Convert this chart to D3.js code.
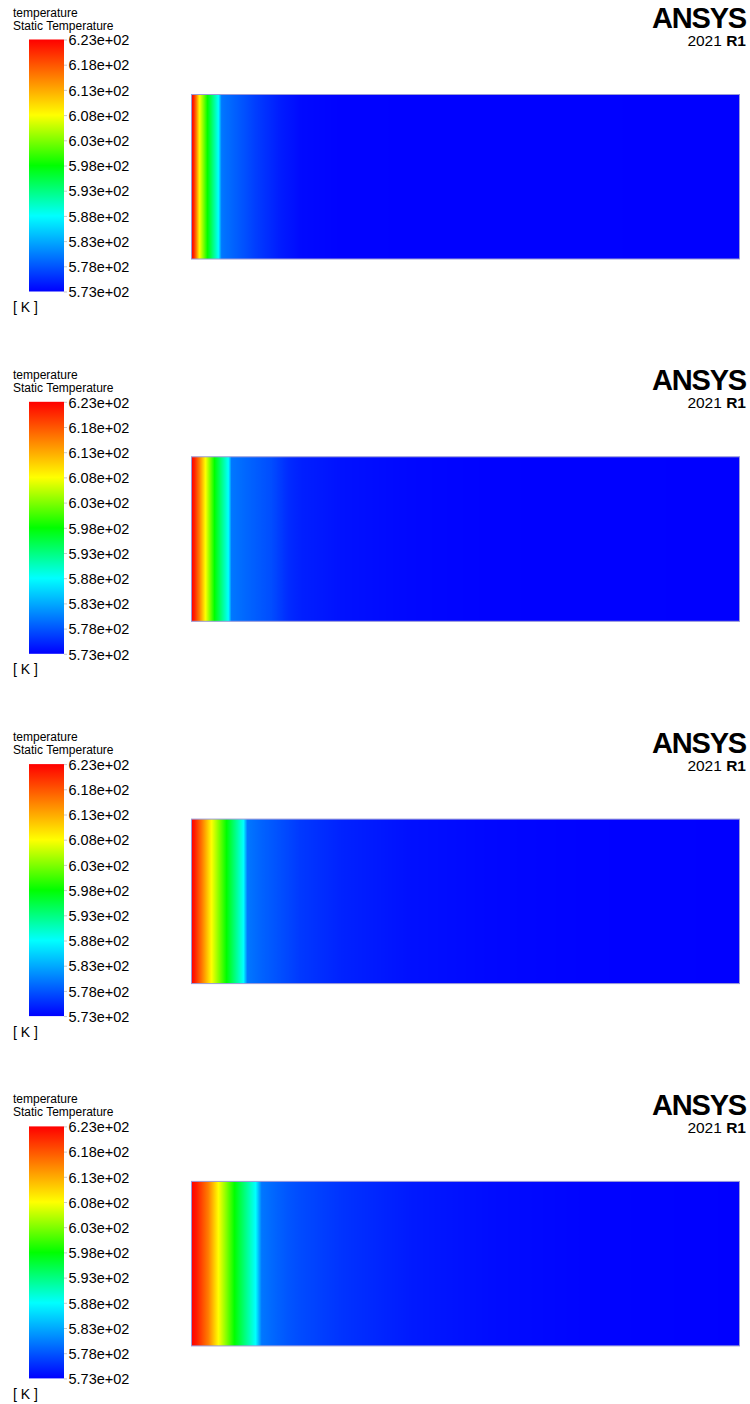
<!DOCTYPE html>
<html><head><meta charset="utf-8">
<script src="https://cdn.jsdelivr.net/npm/d3@7"></script>
<style>html,body{margin:0;padding:0;background:#fff}</style>
</head><body>
<svg id="chart" width="750" height="1404"></svg>
<script>
// ---- data ----
const titleLines = ["temperature", "Static Temperature"];
const unitLabel = "[ K ]";
const tickValues = [573, 578, 583, 588, 593, 598, 603, 608, 613, 618, 623];
const colorStops = [573, 588, 598, 608, 623];
const colorRange = ["#0000ff", "#00ffff", "#00ff00", "#ffff00", "#ff0000"];
const domainLength = 100; // mm along the channel

// temperature profiles along the channel (mm, K), one per snapshot
const positions1 = [0, 0.4, 0.9, 1.46, 2.92, 4.93, 5.47, 8.2, 11.9, 16.2, 20.1, 27.4, 100];
const temps1     = [623, 621, 615.5, 608, 598, 588, 580, 578.5, 576.5, 574.6, 573.5, 573.1, 573];
const positions2 = [0, 0.55, 1.46, 2.55, 4.2, 6.75, 7.3, 10.0, 14.6, 17.7, 20.1, 27.4, 40.1, 54.7, 100];
const temps2     = [623, 621, 615.5, 608, 598, 588, 580, 579, 577.5, 575.5, 574.8, 574, 573.4, 573.1, 573];
const positions3 = [0, 0.55, 2.0, 3.65, 6.39, 9.49, 10.2, 12.8, 17.7, 19.9, 27.4, 40.1, 54.7, 73.0, 100];
const temps3     = [623, 621.5, 615.5, 608, 598, 588, 580, 578.8, 577.1, 576.3, 575, 573.9, 573.4, 573.1, 573];
const positions4 = [0, 0.9, 3.1, 4.93, 7.85, 11.7, 12.8, 15.5, 17.7, 19.9, 27.4, 40.1, 54.7, 73.0, 100];
const temps4     = [623, 621.5, 615.5, 608, 598, 588, 580, 578.8, 578, 577.4, 576, 574.5, 573.7, 573.2, 573];
const profiles = [
  {pos: positions1, temp: temps1},
  {pos: positions2, temp: temps2},
  {pos: positions3, temp: temps3},
  {pos: positions4, temp: temps4}
];

// ---- drawing ----
const svg = d3.select("#chart");
const font = "'Liberation Sans', Arial, sans-serif";
const color = d3.scaleLinear().domain(colorStops).range(colorRange).interpolate(d3.interpolateRgb).clamp(true);
const fmt = v => {
  const [m, e] = v.toExponential(2).split("e");
  return m + "e" + e[0] + e.slice(1).padStart(2, "0");
};
const panelStep = 362.3;
const defs = svg.append("defs");

// colorbar gradient
const cbGrad = defs.append("linearGradient").attr("id", "cbgrad")
  .attr("x1", 0).attr("y1", 1).attr("x2", 0).attr("y2", 0);
const cbSamples = d3.range(0, 51).map(i => 573 + i);
cbGrad.selectAll("stop").data(cbSamples).join("stop")
  .attr("offset", d => (d - 573) / 50)
  .attr("stop-color", d => color(d));

profiles.forEach((p, i) => {
  const g = svg.append("g").attr("transform", `translate(0,${i * panelStep})`);
  // titles
  g.append("text").attr("x", 13).attr("y", 16.5).text(titleLines[0])
    .attr("font-family", font).attr("font-size", 12).attr("fill", "#000");
  g.append("text").attr("x", 13).attr("y", 29.5).text(titleLines[1])
    .attr("font-family", font).attr("font-size", 12).attr("fill", "#000");

  // colorbar
  const y = d3.scaleLinear().domain([573, 623]).range([291.5, 39.5]);
  g.append("rect").attr("x", 29).attr("y", y(623)).attr("width", 35)
    .attr("height", y(573) - y(623)).attr("fill", "url(#cbgrad)");
  const ax = g.append("g").attr("transform", "translate(64,0)")
    .call(d3.axisRight(y).tickValues(tickValues).tickFormat(fmt).tickSize(3).tickPadding(1.5));
  ax.select(".domain").remove();
  ax.selectAll(".tick line").attr("stroke", "#c8c8c8");
  ax.selectAll(".tick text").attr("font-family", font).attr("font-size", 14.5)
    .attr("fill", "#000").attr("dy", "0.36em");
  g.append("text").attr("x", 13).attr("y", 312).text(unitLabel)
    .attr("font-family", font).attr("font-size", 14).attr("fill", "#000");

  // logo
  g.append("text").attr("x", 746).attr("y", 28).attr("text-anchor", "end")
    .attr("font-family", font).attr("font-weight", "bold").attr("font-size", 29)
    .attr("letter-spacing", -1.2).text("ANSYS");
  const t2 = g.append("text").attr("x", 746).attr("y", 46).attr("text-anchor", "end")
    .attr("font-family", font).attr("font-size", 15.5);
  t2.append("tspan").text("2021 ");
  t2.append("tspan").attr("font-weight", "bold").text("R1");

  // domain
  const x = d3.scaleLinear().domain([0, domainLength]).range([191.5, 739.5]);
  const tempAt = d3.scaleLinear().domain(p.pos).range(p.temp).clamp(true);
  const gid = "dom" + i;
  const grad = defs.append("linearGradient").attr("id", gid)
    .attr("gradientUnits", "userSpaceOnUse")
    .attr("x1", x(0)).attr("x2", x(domainLength)).attr("y1", 0).attr("y2", 0);
  const samples = d3.range(0, 1001).map(k => k * domainLength / 1000);
  grad.selectAll("stop").data(samples).join("stop")
    .attr("offset", d => d / domainLength)
    .attr("stop-color", d => color(tempAt(d)));
  g.append("rect").attr("x", x(0)).attr("y", 94.5)
    .attr("width", x(domainLength) - x(0)).attr("height", 164.5)
    .attr("fill", `url(#${gid})`).attr("stroke", "#9a9ad8").attr("stroke-width", 1);
});
</script>
</body></html>
